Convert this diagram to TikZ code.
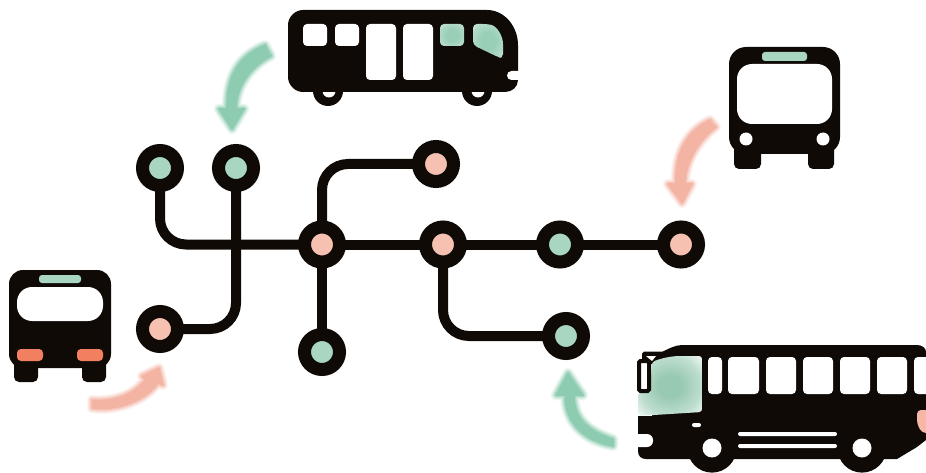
\documentclass[tikz,border=0pt]{standalone}
\usetikzlibrary{backgrounds}
\definecolor{ink}{HTML}{0F0A06}
\definecolor{softgreen}{HTML}{A8D6C1}
\definecolor{softpink}{HTML}{F7C1B2}
\definecolor{arrowgreen}{HTML}{8DCCB1}
\definecolor{arrowpink}{HTML}{F4B4A4}
\definecolor{lamp}{HTML}{F37F61}
\definecolor{glowA}{HTML}{98C9B2}
\definecolor{glowB}{HTML}{BDDDCE}
\definecolor{paneA}{HTML}{98CFB6}
\definecolor{paneB}{HTML}{B4DBCA}
\definecolor{paneC}{HTML}{DDEFE8}
\pgfdeclareradialshading{shieldglow}{\pgfpoint{0bp}{0bp}}{color(0bp)=(glowA);color(9bp)=(glowA);color(24bp)=(glowB);color(38bp)=(white);color(50bp)=(white)}
\pgfdeclareradialshading{paneglow}{\pgfpoint{0bp}{0bp}}{color(0bp)=(paneA);color(12bp)=(paneA);color(28bp)=(paneB);color(42bp)=(paneC);color(50bp)=(paneC)}
\tikzset{
  stopdot/.style={circle,draw=ink,line width=13pt,minimum size=35pt,inner sep=0pt,outer sep=0pt},
  gstop/.style={stopdot,fill=softgreen},
  pstop/.style={stopdot,fill=softpink},
  route/.style={draw=ink,line width=10pt,line cap=butt},
  pane/.style={fill=white,rounded corners=4pt}
}
\newcommand{\softarrow}[2]{%
  \foreach \w/\p in {11/8,9.5/18,8/30,6.5/44,5/58,3.5/72,2/86,0/100}{%
    \fill[#2!\p!white,draw=#2!\p!white,line width=\w pt,line join=round] #1;}}
\begin{document}
\begin{tikzpicture}[x=1pt,y=-1pt]
\useasboundingbox (0,0) rectangle (926,473);
\clip (0,0) rectangle (926,473);

% soft arrows
\softarrow{(265,45) .. controls (240,55) and (226,75) .. (227,109) -- (219,109) -- (232,129) -- (244,109) -- (236,109) .. controls (236,87) and (250,67) .. (271,56) -- cycle}{arrowgreen}
\softarrow{(710,120) .. controls (690,129) and (674,150) .. (676,184) -- (668,184) -- (682,203) -- (692,184) -- (685,184) .. controls (685,161) and (700,139) .. (716,127) -- cycle}{arrowpink}
\softarrow{(92,400) .. controls (115,402) and (134,394) .. (145,380) -- (142,376) -- (159,368) -- (163,385) -- (158,383) .. controls (147,399) and (118,412) .. (92,408) -- cycle}{arrowpink}
\softarrow{(613,439) .. controls (590,431) and (574,420) .. (574,395) -- (583,395) -- (568,373) -- (556,395) -- (565,395) .. controls (565,424) and (585,441) .. (613,446) -- cycle}{arrowgreen}

% network
\node[gstop] (n1) at (160,168) {};
\node[gstop] (n2) at (236,168) {};
\node[pstop] (n3) at (322,244.5) {};
\node[pstop] (n4) at (160,329) {};
\node[gstop] (n5) at (322,352) {};
\node[pstop] (n6) at (436,164) {};
\node[pstop] (n7) at (443,244.5) {};
\node[gstop] (n8) at (560,244.5) {};
\node[pstop] (n9) at (681,244.5) {};
\node[gstop] (n10) at (566,336) {};
\begin{scope}[on background layer]
  \draw[route,rounded corners=26pt] (n1.center) |- (n3.center);
  \draw[route,rounded corners=26pt] (n2.center) |- (n4.center);
  \draw[route] (n3.center) -- (n5.center);
  \draw[route,rounded corners=26pt] (n3.center) |- (n6.center);
  \draw[route] (n3.center) -- (n7.center) -- (n8.center) -- (n9.center);
  \draw[route,rounded corners=26pt] (n7.center) |- (n10.center);
\end{scope}

% top bus
\fill[ink] (328,91) circle (15);
\fill[ink] (477,91) circle (15);
\fill[white] (329,91) circle (6.5);
\fill[white] (478,91) circle (6.5);
\fill[ink] (303,10) -- (487,10) .. controls (505,10) and (518,27) .. (518,45) -- (518,80) .. controls (518,87) and (512,92) .. (505,92) -- (303,92) .. controls (295,92) and (288,85) .. (288,77) -- (288,25) .. controls (288,17) and (295,10) .. (303,10) -- cycle;
\fill[pane] (303,24) rectangle (327,46);
\fill[pane] (335,24) rectangle (359,46);
\fill[pane] (366,24) rectangle (396,80);
\fill[pane] (403,24) rectangle (433,80);
\shade[shading=paneglow,rounded corners=4pt] (440,24) rectangle (464,46);
\shade[shading=paneglow,rounded corners=4pt] (473,24) -- (487,24) .. controls (497,26) and (503,36) .. (503,48) -- (503,58) -- (499,57.5) -- (473,45) -- cycle;
\fill[white,rounded corners=4.5pt] (507,71) rectangle (530,80);

% right front bus
\fill[ink,rounded corners=5pt] (734,145) rectangle (761,169);
\fill[ink,rounded corners=5pt] (808,145) rectangle (834,169);
\fill[ink,rounded corners=17pt] (729,47) -- (840,47) -- (840,154) -- (729,154) -- cycle;
\fill[softgreen,rounded corners=3pt] (762,52) rectangle (807,61);
\fill[white,rounded corners=15pt] (737,64) rectangle (832,124);
\fill[white] (746,139) circle (6.5);
\fill[white] (823,139) circle (6.5);

% left front bus
\fill[ink,rounded corners=5pt] (14,360) rectangle (38,382);
\fill[ink,rounded corners=5pt] (82,360) rectangle (106,382);
\fill[ink,rounded corners=14pt] (9,270) -- (111,270) -- (111,368) -- (9,368) -- cycle;
\fill[softgreen,rounded corners=3pt] (39,275) rectangle (81,283);
\fill[white,rounded corners=15pt] (17,287) rectangle (103,321);
\fill[lamp,rounded corners=4pt] (17,349) rectangle (43,361);
\fill[lamp,rounded corners=4pt] (77,349) rectangle (103,361);

% large side bus
\fill[ink] (712,448) circle (24.6);
\fill[ink] (862,448) circle (24.6);
\fill[ink] (682,345) -- (917,345) .. controls (922,345) and (926,348) .. (926,352) -- (926,440) -- (917,447) -- (897,459) -- (646,459) .. controls (641,459) and (638,456) .. (638,451) -- (638,416) -- (652,416) -- (652,358) -- (662,352) .. controls (668,349) and (675,345) .. (682,345) -- cycle;
\fill[ink] (644,351.5) -- (664,351.5) -- (654,364) -- (642,364) -- (642,353.5) -- cycle;
\fill[white] (646,356) -- (656,356) -- (652,361) -- cycle;
\shade[shading=shieldglow,rounded corners=3pt] (652,362) .. controls (662,358) and (672,356) .. (683,356) -- (702,356) -- (702,412) -- (638,416) -- (638,393) -- (650,393) -- cycle;
\draw[ink,fill=white,line width=4pt,rounded corners=1.5pt] (639,361) rectangle (649,391);
\fill[pane] (708,357) rectangle (722,394);
\foreach \a/\b in {728/759,766/796,803/833,840/870,877/907,914/935}{\fill[pane] (\a,357) rectangle (\b,394);}
\fill[white,rounded corners=2pt] (692,423) rectangle (701,427);
\fill[white,rounded corners=2pt] (738,432) rectangle (837,436);
\fill[white,rounded corners=2pt] (738,444) rectangle (837,448);
\fill[white,rounded corners=6pt] (630,434) rectangle (653,447);
\fill[white] (712,448) circle (9.5);
\fill[white] (862,448) circle (9.5);
\fill[softpink!85!lamp,rounded corners=4pt] (935,410) -- (917,410) -- (917,424) -- (922,433) -- (935,433) -- cycle;
\end{tikzpicture}
\end{document}
